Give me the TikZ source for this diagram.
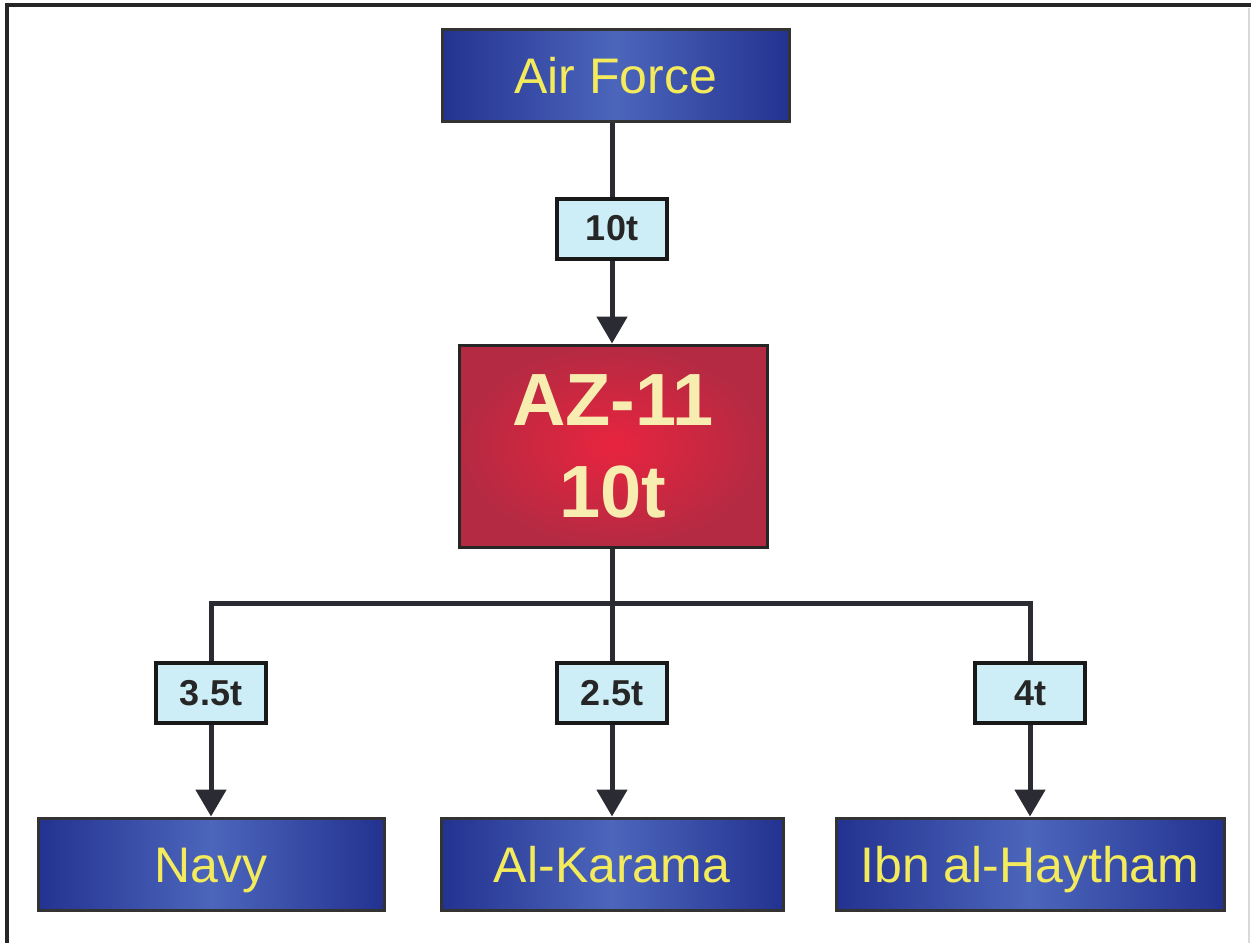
\documentclass[tikz,border=0pt]{standalone}
\usepackage{fontspec}
\setmainfont{Liberation Sans}
\usepackage{xcolor}
\usepackage{tikz}
\usetikzlibrary{arrows.meta}

\definecolor{unitdark}{HTML}{233290}
\definecolor{unitlight}{HTML}{4C66BC}
\definecolor{hubdark}{HTML}{B42A42}
\definecolor{hublight}{HTML}{E8243F}
\definecolor{tagfill}{HTML}{CDEEF7}
\definecolor{flowgray}{HTML}{2B2B33}
\definecolor{unittext}{HTML}{F3EA5C}
\definecolor{hubtext}{HTML}{F8EDB0}

\begin{document}
\begin{tikzpicture}[x=0.5pt,y=-0.5pt,
    unit/.style={draw=black!80,line width=1.5pt,minimum width=173pt,minimum height=46pt,
        left color=unitdark,right color=unitdark,middle color=unitlight,
        text=unittext,font=\fontsize{25}{30}\selectfont,text height=18pt,text depth=0pt},
    tag/.style={draw=black!90,line width=2pt,fill=tagfill,minimum width=55pt,minimum height=30pt,
        text=black!85,font=\fontsize{18}{21}\selectfont\bfseries},
    flow/.style={draw=flowgray,line width=2.5pt},
    >={Triangle[width=15pt,length=13.5pt]}]
\useasboundingbox (0,0) rectangle (1251,943);
\fill[white] (0,0) rectangle (1251,943);
\draw[black!85,line width=2pt] (7,943) -- (7,5) -- (1251,5);
\draw[gray!30,line width=0.6pt] (1249,8) -- (1249,943);

\node[unit,minimum width=173.5pt] (airforce) at (615.5,75.5) {Air Force};
\node[tag] (t10) at (612,228.5) {10t};
\node[draw=black!85,line width=1.5pt,minimum width=154pt,minimum height=101pt,
      inner color=hublight,outer color=hubdark,text=hubtext,align=center,
      font=\fontsize{37}{46}\selectfont\bfseries] (az11) at (613,446)
      {AZ-11\\10t};

\coordinate (split) at (612,603);
\node[tag] (t35) at (211,693) {3.5t};
\node[tag] (t25) at (612,693) {2.5t};
\node[tag] (t4) at (1030,693) {4t};

\node[unit] (navy) at (211,864) {Navy};
\node[unit,minimum width=171pt] (karama) at (612,864) {Al-Karama};
\node[unit,minimum width=194pt] (haytham) at (1030,864) {Ibn al-Haytham};

\draw[flow] (airforce.south -| t10) -- (t10);
\draw[flow,->] (t10) -- (t10 |- az11.north);
\draw[flow] (az11.south -| split) -- (split);
\draw[flow] (t35) |- (split) -| (t4);
\draw[flow] (split) -- (t25);
\draw[flow,->] (t35) -- (navy);
\draw[flow,->] (t25) -- (karama);
\draw[flow,->] (t4) -- (haytham);
\end{tikzpicture}
\end{document}
